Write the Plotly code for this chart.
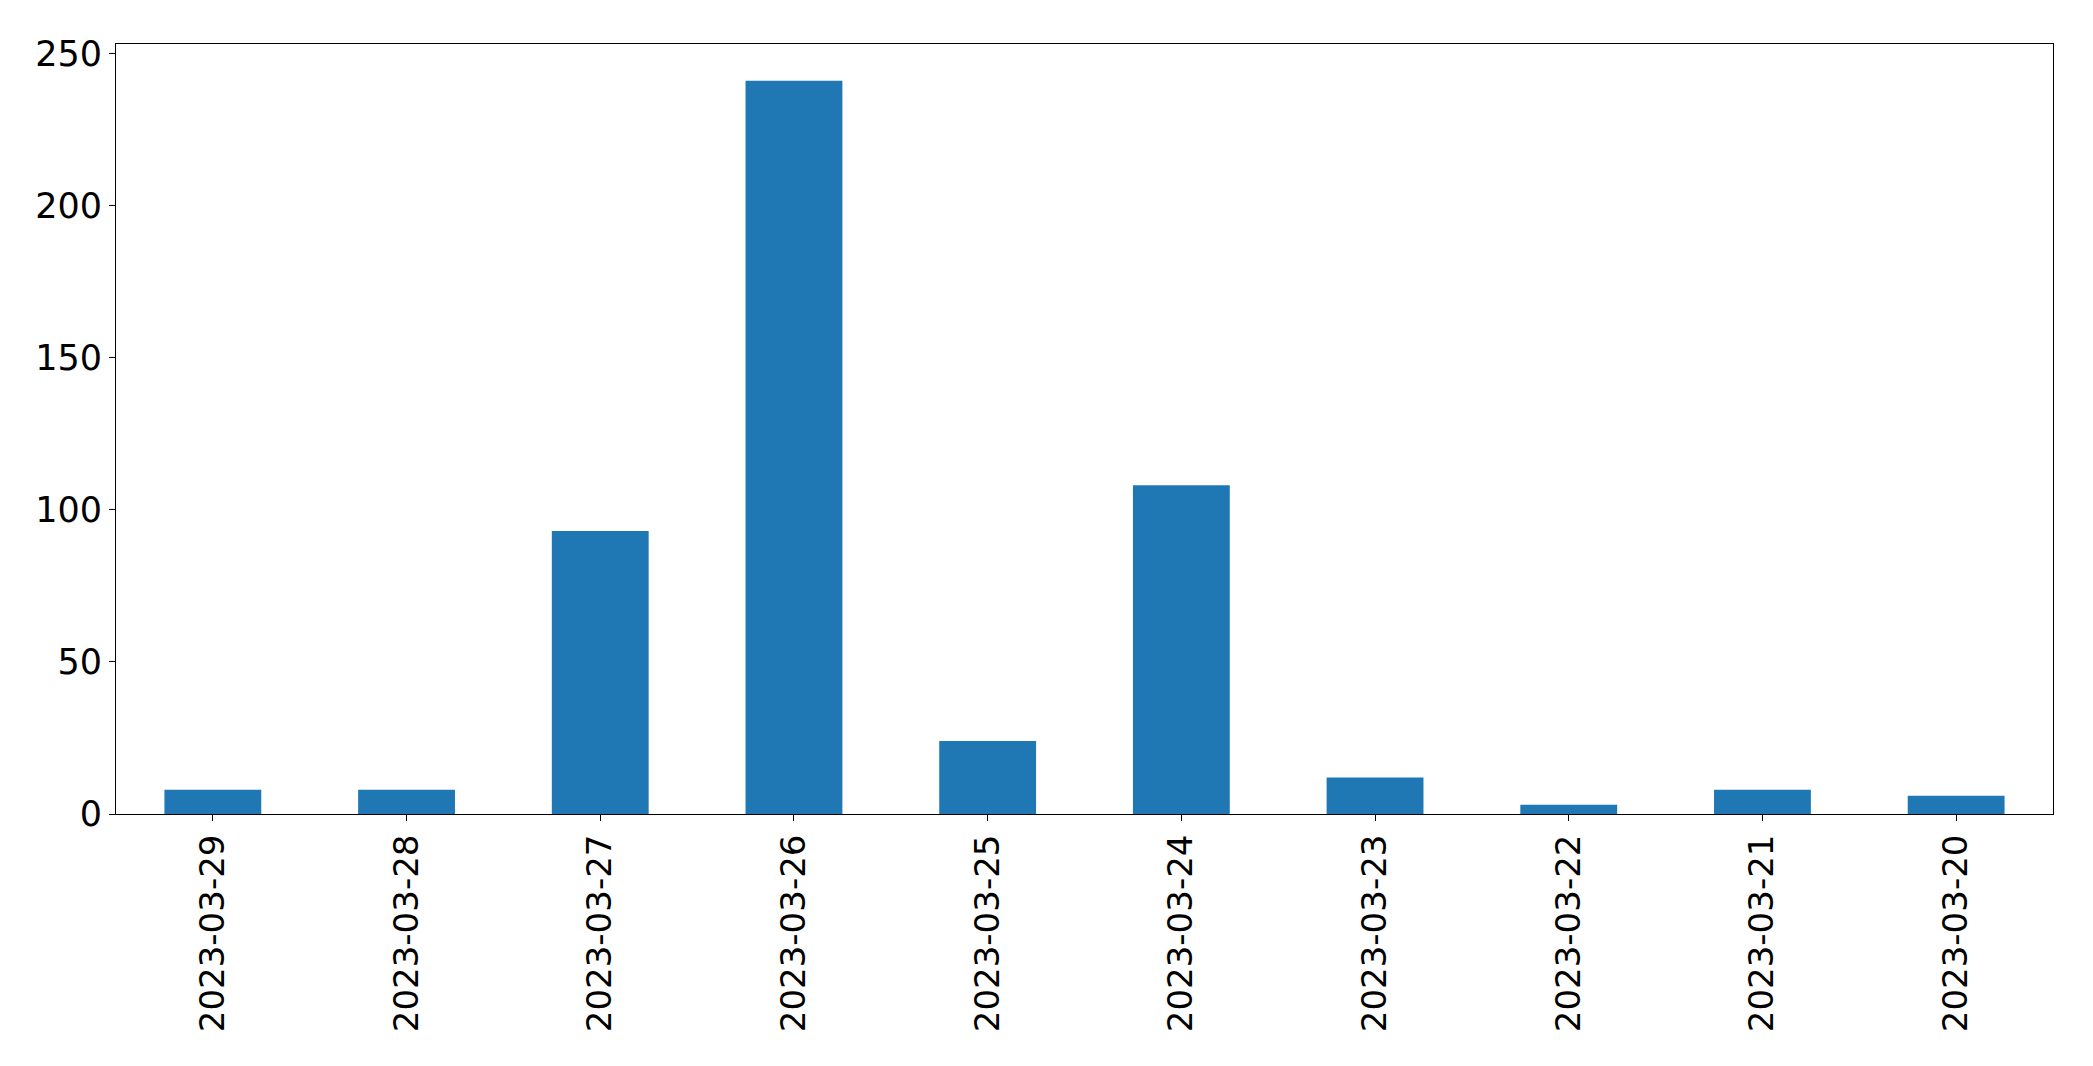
import plotly.graph_objects as go

dates = ["2023-03-29", "2023-03-28", "2023-03-27", "2023-03-26", "2023-03-25",
         "2023-03-24", "2023-03-23", "2023-03-22", "2023-03-21", "2023-03-20"]
counts = [8, 8, 93, 241, 24, 108, 12, 3, 8, 6]
y_ticks = [0, 50, 100, 150, 200, 250]

fig = go.Figure(go.Bar(x=dates, y=counts, marker=dict(color="#1f77b4", line=dict(width=0)),
                       width=0.5))

fig.update_layout(
    width=2077, height=1050,
    margin=dict(l=108, r=32, t=36, b=244),
    paper_bgcolor="white", plot_bgcolor="white",
    font=dict(family="DejaVu Sans", size=34, color="black"),
    showlegend=False,
)
fig.update_xaxes(
    type="category", range=[-0.5, len(dates) - 0.5],
    tickangle=-90, ticks="outside", ticklen=6, tickwidth=1, tickcolor="black",
    showline=True, linecolor="black", linewidth=1, mirror=True, showgrid=False,
    tickfont=dict(size=34),
)
fig.update_yaxes(
    range=[0, max(counts) * 1.05], tickvals=y_ticks,
    ticks="outside", ticklen=6, tickwidth=1, tickcolor="black",
    showline=True, linecolor="black", linewidth=1, mirror=True, showgrid=False,
    zeroline=False, tickfont=dict(size=35),
)
fig.write_html("out.html")
